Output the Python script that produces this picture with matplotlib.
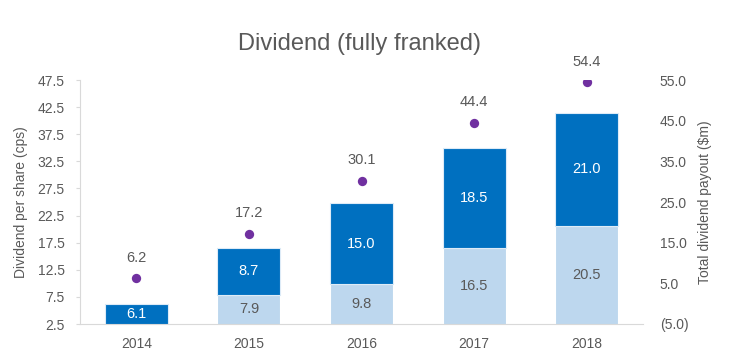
import matplotlib
matplotlib.use("Agg")
import matplotlib.pyplot as plt
import numpy as np

years = ["2014", "2015", "2016", "2017", "2018"]
lower_cps = [0.0, 7.9, 9.8, 16.5, 20.5]
upper_cps = [6.1, 8.7, 15.0, 18.5, 21.0]
payout_m = [6.2, 17.2, 30.1, 44.4, 54.4]
left_ticks = [2.5, 7.5, 12.5, 17.5, 22.5, 27.5, 32.5, 37.5, 42.5, 47.5]
right_ticks = [-5.0, 5.0, 15.0, 25.0, 35.0, 45.0, 55.0]

dark = "#0070C0"
light = "#BDD7EE"
purple = "#7030A0"
grey = "#595959"

plt.rcParams['font.family'] = ['Liberation Sans', 'DejaVu Sans']

fig = plt.figure(figsize=(7.32, 3.59), dpi=100)
ax = fig.add_axes([80/732, 1-324/359, (643-80)/732, (324-80)/359])
x = np.arange(len(years))
w = 0.56
ax.bar(x, lower_cps, w, color=light, edgecolor="white", linewidth=0.8, zorder=2)
ax.bar(x, upper_cps, w, bottom=lower_cps, color=dark, edgecolor="#DDEBF7", linewidth=0.8, zorder=2)

ax.set_ylim(2.5, 47.5)
ax.set_xlim(-0.5, 4.5)
ax.set_yticks(left_ticks)
ax.set_yticklabels([f"{t:.1f}" for t in left_ticks])
ax.set_xticks(x)
ax.set_xticklabels(years)
ax.tick_params(axis='both', colors=grey, labelsize=10, length=3, width=0.8)
ax.tick_params(axis='y', color="#D9D9D9", labelcolor=grey, pad=8)
ax.tick_params(axis='x', length=0, pad=9)
for s in ["top", "right"]:
    ax.spines[s].set_visible(False)
for s in ["left", "bottom"]:
    ax.spines[s].set_color("#D9D9D9")
ax.set_ylabel("Dividend per share (cps)", color=grey, fontsize=10, labelpad=7)

for i in range(len(years)):
    if lower_cps[i] > 0:
        yl = (2.5 + lower_cps[i]) / 2
        ax.text(x[i], yl, f"{lower_cps[i]:.1f}", ha="center", va="center", color=grey, fontsize=10.5, zorder=3)
    top = lower_cps[i] + upper_cps[i]
    bot = max(lower_cps[i], 2.5)
    ax.text(x[i], (bot + top) / 2, f"{upper_cps[i]:.1f}", ha="center", va="center", color="white", fontsize=10.5, zorder=3)

ax2 = ax.twinx()
ax2.set_ylim(-5, 55)
ax2.set_yticks(right_ticks)
ax2.set_yticklabels([f"({abs(t):.1f})" if t < 0 else f"{t:.1f}" for t in right_ticks])
ax2.tick_params(axis='y', colors=grey, labelsize=10, length=0, pad=12)
for s in ax2.spines.values():
    s.set_visible(False)
ax2.scatter(x, payout_m, s=45, color=purple, zorder=4, linewidths=0)
for i in range(len(years)):
    ax2.annotate(f"{payout_m[i]:.1f}", (x[i], payout_m[i]), xytext=(0, 10), textcoords="offset points",
                 ha="center", va="bottom", color=grey, fontsize=10.5)
ax2.set_ylabel("Total dividend payout ($m)", color=grey, fontsize=10, labelpad=7)

fig.text(360/732, 1-44/359, "Dividend (fully franked)", ha="center", va="center", color=grey, fontsize=17)

fig.savefig("out.png", dpi=100)
